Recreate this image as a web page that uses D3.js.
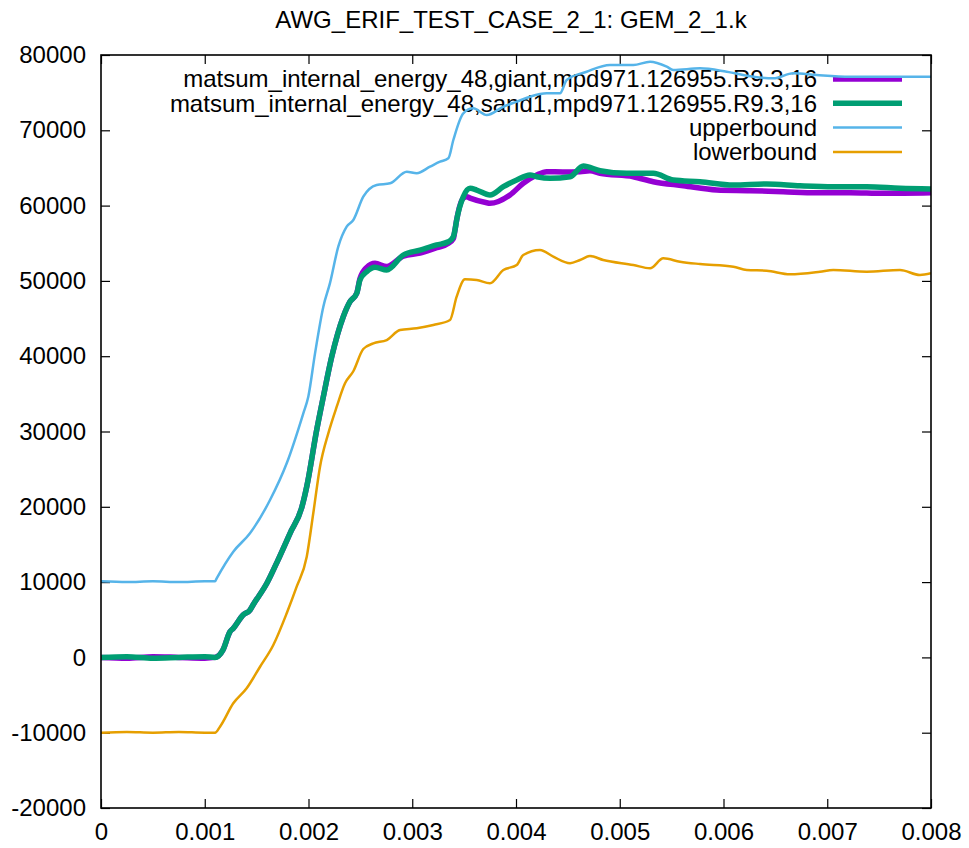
<!DOCTYPE html>
<html>
<head>
<meta charset="utf-8">
<script src="https://cdn.jsdelivr.net/npm/d3@7"></script>
<style>
  html, body { margin: 0; padding: 0; background: #fff; }
  svg { display: block; font-family: "Liberation Sans", Arial, sans-serif; }
</style>
</head>
<body>
<svg id="chart" width="969" height="848"></svg>
<script>
// ---------- data ----------
const chartTitle = "AWG_ERIF_TEST_CASE_2_1: GEM_2_1.k";

const xTicks = [0, 0.001, 0.002, 0.003, 0.004, 0.005, 0.006, 0.007, 0.008];
const xTickLabels = ["0", "0.001", "0.002", "0.003", "0.004", "0.005", "0.006", "0.007", "0.008"];
const yTicks = [-20000, -10000, 0, 10000, 20000, 30000, 40000, 50000, 60000, 70000, 80000];
const yTickLabels = ["-20000", "-10000", "0", "10000", "20000", "30000", "40000", "50000", "60000", "70000", "80000"];

const seriesNames = [
  "matsum_internal_energy_48,giant,mpd971.126955.R9.3,16",
  "matsum_internal_energy_48,sand1,mpd971.126955.R9.3,16",
  "upperbound",
  "lowerbound"
];

const giantTime = [0, 0.00025, 0.0005, 0.00075, 0.001, 0.001099, 0.001176, 0.001243, 0.001275, 0.001369,
  0.001436, 0.001465, 0.0016, 0.001706, 0.001822, 0.001937, 0.001983, 0.002079, 0.002143, 0.002224,
  0.002335, 0.0024, 0.002465, 0.002496, 0.002561, 0.002641, 0.002754, 0.002914, 0.003075, 0.003236,
  0.003348, 0.003396, 0.003412, 0.003428, 0.003492, 0.003525, 0.003557, 0.003718, 0.003749, 0.003942,
  0.00407, 0.0042, 0.004296, 0.004452, 0.004617, 0.004713, 0.00481, 0.005131, 0.005323, 0.005613,
  0.005935, 0.006255, 0.006576, 0.006898, 0.007219, 0.00754, 0.008];
const giantEnergy = [0, -100, 100, 0, -100, 0, 1000, 3410, 3860, 5630,
  6290, 6960, 9880, 12930, 16480, 20000, 22670, 30200, 34620, 39930,
  45240, 47240, 48350, 50300, 51800, 52340, 51900, 53300, 53700, 54400,
  55000, 55600, 56760, 58090, 61000, 61180, 61000, 60380, 60300, 61410,
  62960, 64060, 64500, 64460, 64500, 64630, 64290, 63840, 63170, 62640,
  62070, 61980, 61840, 61710, 61710, 61630, 61710];

const sand1Time = [0, 0.00025, 0.0005, 0.00075, 0.001, 0.001099, 0.001176, 0.001243, 0.001275, 0.001369,
  0.001436, 0.001465, 0.0016, 0.001706, 0.001822, 0.001937, 0.001983, 0.002079, 0.002143, 0.002224,
  0.002335, 0.0024, 0.002465, 0.002496, 0.002561, 0.002641, 0.002754, 0.002914, 0.003075, 0.003236,
  0.003348, 0.003396, 0.003412, 0.003428, 0.003492, 0.003557, 0.003621, 0.003749, 0.003878, 0.004007,
  0.004135, 0.0042, 0.004328, 0.004521, 0.004649, 0.00481, 0.005067, 0.005323, 0.005516, 0.005774,
  0.006095, 0.006416, 0.006737, 0.007058, 0.00738, 0.007701, 0.008];
const sand1Energy = [0, 100, -100, 0, 100, 0, 1000, 3410, 3860, 5630,
  6290, 6960, 9880, 12930, 16480, 20000, 22670, 30200, 34620, 39930,
  45240, 47240, 48350, 50120, 51220, 51810, 51450, 53440, 54100, 54770,
  55200, 55870, 56760, 58090, 61180, 62300, 62070, 61410, 62510, 63400,
  64060, 63840, 63620, 63840, 65260, 64630, 64290, 64290, 63400, 63170,
  62730, 62870, 62640, 62510, 62510, 62300, 62200];

const upperTime = [0, 0.00025, 0.0005, 0.00075, 0.001, 0.001099, 0.001115, 0.001275, 0.001436, 0.001629,
  0.00179, 0.00195, 0.001998, 0.002063, 0.002143, 0.002207, 0.002287, 0.002368, 0.002432, 0.002528,
  0.002657, 0.002786, 0.002947, 0.003043, 0.003171, 0.003268, 0.003348, 0.003396, 0.003492, 0.003588,
  0.003718, 0.003878, 0.004007, 0.004135, 0.004296, 0.004424, 0.004489, 0.004681, 0.004906, 0.005131,
  0.005292, 0.005453, 0.005516, 0.005774, 0.006031, 0.006287, 0.00648, 0.006673, 0.006898, 0.007219,
  0.00754, 0.008];
const upperEnergy = [10100, 10000, 10100, 10000, 10100, 10100, 10500, 14040, 16480, 20900,
  25780, 32420, 34620, 40380, 46570, 49700, 54540, 57200, 58090, 61180,
  62740, 62960, 64500, 64290, 65170, 65830, 66280, 68710, 72260, 72920,
  72030, 73130, 73800, 74460, 74910, 74910, 76680, 77780, 78670, 78670,
  79110, 78450, 78010, 78230, 77780, 77120, 76900, 77570, 77340, 77120,
  77120, 77120];

const lowerTime = [0, 0.00025, 0.0005, 0.00075, 0.001, 0.001099, 0.001147, 0.001275, 0.001404, 0.001533,
  0.001661, 0.00179, 0.001886, 0.001983, 0.002046, 0.002111, 0.002191, 0.002272, 0.002352, 0.002432,
  0.002528, 0.002625, 0.002754, 0.002882, 0.003043, 0.003203, 0.003364, 0.003428, 0.003508, 0.003621,
  0.003749, 0.003878, 0.004007, 0.00407, 0.004231, 0.00436, 0.004521, 0.004617, 0.004713, 0.004841,
  0.005131, 0.005292, 0.00542, 0.005581, 0.005774, 0.006095, 0.006224, 0.006416, 0.006641, 0.00693,
  0.007058, 0.00738, 0.007701, 0.007894, 0.008];
const lowerEnergy = [-10000, -9900, -10000, -9900, -10000, -10000, -9200, -6100, -4100, -1240,
  1650, 5860, 9390, 13370, 19140, 25330, 29760, 33290, 36400, 38000,
  40950, 41710, 42150, 43480, 43700, 44140, 44810, 47900, 50210, 50120,
  49680, 51450, 52110, 53440, 54100, 53210, 52340, 52770, 53300, 52770,
  52110, 51670, 53000, 52550, 52240, 51880, 51450, 51350, 50880, 51220,
  51450, 51220, 51450, 50780, 51010];

// ---------- styles ----------
const colors = ["#9400d3", "#009e73", "#56b4e9", "#e69f00"];
const widths = [5.5, 5.5, 2.5, 2.5];
const FONT = 24;

const series = [
  { name: seriesNames[0], t: giantTime, v: giantEnergy },
  { name: seriesNames[1], t: sand1Time, v: sand1Energy },
  { name: seriesNames[2], t: upperTime, v: upperEnergy },
  { name: seriesNames[3], t: lowerTime, v: lowerEnergy }
].map((s, i) => ({ ...s, color: colors[i], width: widths[i], pts: s.t.map((t, j) => [t, s.v[j]]) }));

// ---------- layout ----------
const L = 101, R = 931, T = 55, B = 808;
const svg = d3.select("#chart");
const x = d3.scaleLinear().domain([0, 0.008]).range([L, R]);
const y = d3.scaleLinear().domain([-20000, 80000]).range([B, T]);
const tick = 9;

// title
svg.append("text")
  .attr("x", 511).attr("y", 28)
  .attr("text-anchor", "middle")
  .attr("font-size", FONT)
  .attr("fill", "#000")
  .text(chartTitle);

// axes
function styleAxis(g) {
  g.select(".domain").remove();
  g.selectAll(".tick line").attr("stroke", "#000").attr("stroke-width", 1.2);
  g.selectAll(".tick text").attr("font-size", FONT).attr("font-family", '"Liberation Sans", Arial, sans-serif').attr("fill", "#000");
}
svg.append("g").attr("transform", `translate(${L},0)`)
  .call(d3.axisLeft(y).tickValues(yTicks).tickSize(-tick).tickPadding(15).tickFormat((d, i) => yTickLabels[i]))
  .call(styleAxis);
svg.append("g").attr("transform", `translate(${R},0)`)
  .call(d3.axisRight(y).tickValues(yTicks).tickSize(-tick).tickFormat(""))
  .call(styleAxis);
svg.append("g").attr("transform", `translate(0,${B})`)
  .call(d3.axisBottom(x).tickValues(xTicks).tickSize(-tick).tickPadding(15).tickFormat((d, i) => xTickLabels[i]))
  .call(styleAxis);
svg.append("g").attr("transform", `translate(0,${T})`)
  .call(d3.axisTop(x).tickValues(xTicks).tickSize(-tick).tickFormat(""))
  .call(styleAxis);

// legend
const legX = 817, legY0 = 79, legDy = 24.3;
const leg = svg.append("g");
series.forEach((s, i) => {
  const yy = legY0 + i * legDy;
  leg.append("text")
    .attr("x", legX).attr("y", yy).attr("dy", "0.35em")
    .attr("text-anchor", "end").attr("font-size", FONT).attr("fill", "#000")
    .text(s.name);
  leg.append("line")
    .attr("x1", 833).attr("x2", 902).attr("y1", yy).attr("y2", yy)
    .attr("stroke", s.color).attr("stroke-width", s.width);
});

// curves
const clip = svg.append("clipPath").attr("id", "plotclip")
  .append("rect").attr("x", L).attr("y", T).attr("width", R - L).attr("height", B - T);
const line = d3.line().x(d => x(d[0])).y(d => y(d[1])).curve(d3.curveMonotoneX);
const gLines = svg.append("g").attr("clip-path", "url(#plotclip)");
series.forEach(s => {
  gLines.append("path")
    .attr("d", line(s.pts))
    .attr("fill", "none")
    .attr("stroke", s.color)
    .attr("stroke-width", s.width)
    .attr("stroke-linejoin", "round")
    .attr("stroke-linecap", "butt");
});

// frame
svg.append("rect")
  .attr("x", L).attr("y", T).attr("width", R - L).attr("height", B - T)
  .attr("fill", "none").attr("stroke", "#000").attr("stroke-width", 1.6);
</script>
</body>
</html>
